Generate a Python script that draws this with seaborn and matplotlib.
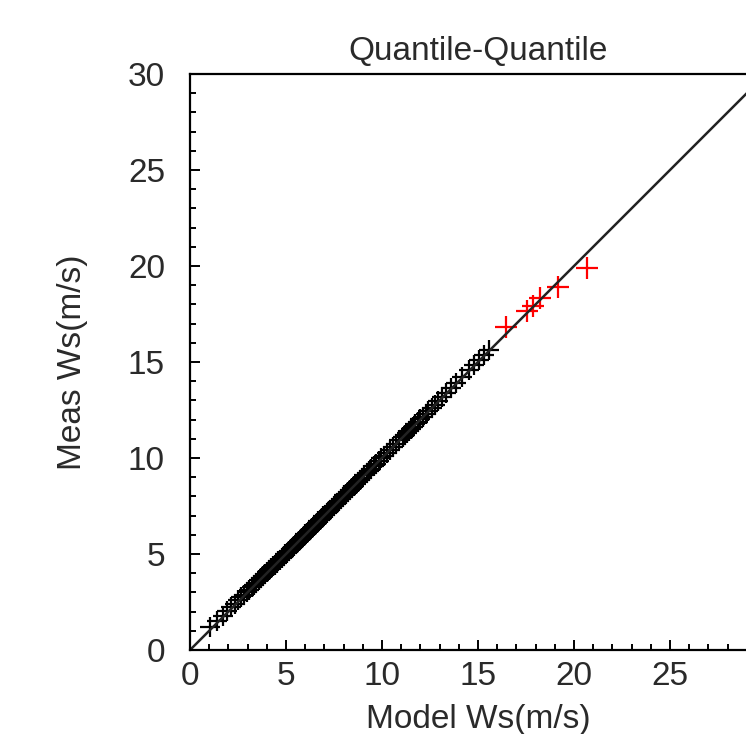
import pandas as pd
import numpy as np
import seaborn as sns

import matplotlib
matplotlib.use('Agg')
import matplotlib.pyplot as plt
from matplotlib.ticker import MultipleLocator

model_q = [1.05, 1.43, 1.71, 1.95, 2.15, 2.34, 2.51, 2.67, 2.82, 2.96,
           3.09, 3.22, 3.34, 3.46, 3.58, 3.69, 3.80, 3.91, 4.02, 4.12,
           4.22, 4.32, 4.42, 4.51, 4.60, 4.69, 4.78, 4.87, 4.97, 5.06,
           5.15, 5.24, 5.33, 5.41, 5.50, 5.59, 5.67, 5.76, 5.84, 5.93,
           6.01, 6.10, 6.18, 6.27, 6.35, 6.44, 6.52, 6.61, 6.69, 6.78,
           6.87, 6.95, 7.04, 7.13, 7.22, 7.31, 7.40, 7.49, 7.58, 7.67,
           7.76, 7.85, 7.95, 8.04, 8.14, 8.24, 8.34, 8.44, 8.54, 8.65,
           8.75, 8.86, 8.97, 9.08, 9.20, 9.32, 9.44, 9.57, 9.70, 9.83,
           9.97, 10.11, 10.26, 10.41, 10.57, 10.74, 10.91, 11.10, 11.20, 11.30,
           11.40, 11.51, 11.62, 11.74, 11.86, 11.99, 12.13, 12.27, 12.42, 12.58,
           12.74, 12.92, 13.12, 13.34, 13.58, 13.85, 14.16, 14.53, 14.80, 15.05,
           15.30, 15.55]
meas_q = [1.18, 1.52, 1.78, 2.04, 2.22, 2.40, 2.58, 2.74, 2.88, 3.02,
          3.15, 3.27, 3.39, 3.51, 3.62, 3.73, 3.84, 3.95, 4.05, 4.15,
          4.25, 4.35, 4.44, 4.53, 4.62, 4.71, 4.80, 4.89, 4.98, 5.07,
          5.16, 5.25, 5.33, 5.42, 5.51, 5.59, 5.68, 5.76, 5.85, 5.93,
          6.02, 6.10, 6.19, 6.27, 6.36, 6.44, 6.53, 6.61, 6.70, 6.78,
          6.87, 6.96, 7.04, 7.13, 7.22, 7.31, 7.40, 7.49, 7.58, 7.67,
          7.76, 7.86, 7.95, 8.05, 8.14, 8.24, 8.34, 8.44, 8.55, 8.65,
          8.76, 8.87, 8.98, 9.09, 9.21, 9.33, 9.45, 9.58, 9.71, 9.84,
          9.98, 10.12, 10.27, 10.42, 10.58, 10.75, 10.92, 11.11, 11.21, 11.31,
          11.42, 11.53, 11.64, 11.76, 11.89, 12.02, 12.16, 12.30, 12.45, 12.61,
          12.78, 12.96, 13.16, 13.38, 13.62, 13.90, 14.21, 14.58, 14.86, 15.12,
          15.38, 15.62]
# upper tail, drawn in red
model_tail = [16.46, 17.55, 17.86, 18.23, 19.17, 20.68]
meas_tail = [16.82, 17.66, 17.92, 18.33, 18.91, 19.90]
# 1:1 reference line
ref_x = [0, 30]
ref_y = [0, 30]
x_ticks = [0, 5, 10, 15, 20, 25]
y_ticks = [0, 5, 10, 15, 20, 25, 30]

sns.set_style('white')
plt.rcParams['font.family'] = ['Liberation Sans', 'DejaVu Sans']
txt_col = '#2a2a2a'

fig = plt.figure(figsize=(7.46, 7.34), dpi=100)
ax = fig.add_axes([190/746, 84/734, 576/746, 576/734])

sns.lineplot(x=ref_x, y=ref_y, color='#222222', linewidth=1.8, ax=ax)
sns.scatterplot(x=model_q, y=meas_q, marker='+', s=210, color='black',
                linewidth=1.6, ax=ax)
sns.scatterplot(x=model_tail, y=meas_tail, marker='+', s=230, color='red',
                linewidth=1.6, ax=ax)

ax.set_xlim(0, 30)
ax.set_ylim(0, 30)
ax.set_xticks(x_ticks)
ax.set_yticks(y_ticks)
ax.xaxis.set_minor_locator(MultipleLocator(1))
ax.yaxis.set_minor_locator(MultipleLocator(1))
ax.tick_params(which='both', direction='in', bottom=True, left=True,
               top=False, right=False, colors='black', labelcolor=txt_col,
               width=1.4)
ax.tick_params(which='major', length=7.5, labelsize=24)
ax.tick_params(which='minor', length=4.3)
ax.tick_params(axis='x', which='major', pad=8)
ax.tick_params(axis='y', which='major', pad=18)

for s in ['left', 'bottom', 'top']:
    ax.spines[s].set_color('black')
    ax.spines[s].set_linewidth(1.6)
ax.spines['right'].set_visible(False)

ax.set_title('Quantile-Quantile', fontsize=24, color=txt_col, pad=10)
ax.set_xlabel('Model Ws(m/s)', fontsize=24, color=txt_col)
ax.set_ylabel('Meas Ws(m/s)', fontsize=24, color=txt_col)
ax.xaxis.set_label_coords(0.5, -0.093)
ax.yaxis.set_label_coords(-0.177, 0.5)

fig.savefig('out.png', dpi=100)
